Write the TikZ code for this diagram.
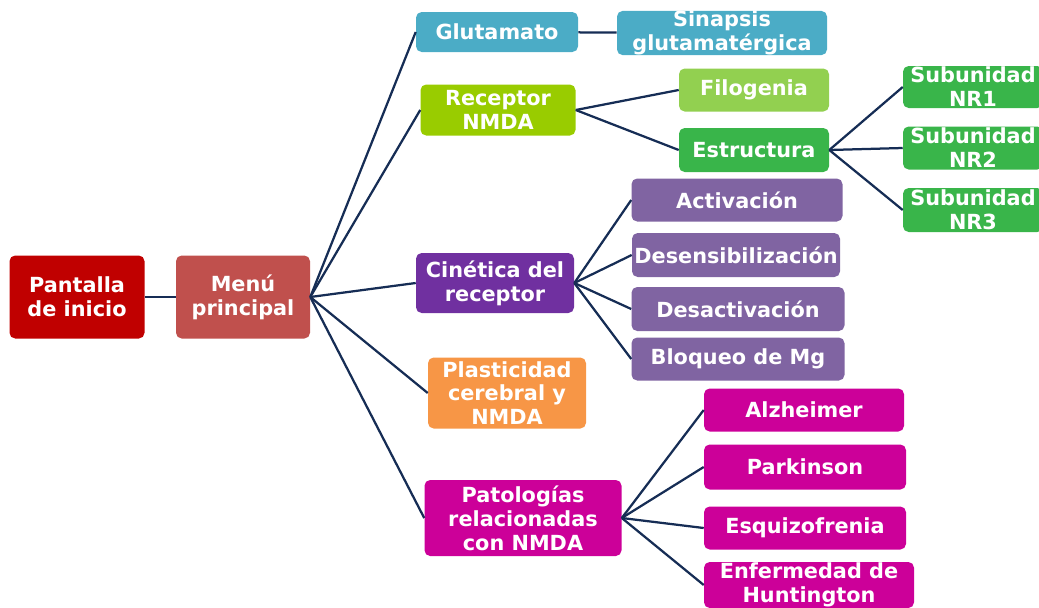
\documentclass[tikz,border=0pt]{standalone}
\usepackage{fontspec}
\setmainfont{DejaVu Sans}
\usetikzlibrary{positioning}
\definecolor{linkblue}{RGB}{22,45,85}
\definecolor{inicioRed}{RGB}{192,0,0}
\definecolor{menuRed}{RGB}{192,80,77}
\definecolor{gluBlue}{RGB}{75,172,198}
\definecolor{recLime}{RGB}{153,204,0}
\definecolor{filoGreen}{RGB}{146,208,80}
\definecolor{estGreen}{RGB}{57,181,74}
\definecolor{cinPurple}{RGB}{112,48,160}
\definecolor{kinLilac}{RGB}{128,100,162}
\definecolor{plaOrange}{RGB}{247,150,70}
\definecolor{patMagenta}{RGB}{204,0,153}
\tikzstyle{menubox} = [rounded corners=4pt, text=white, align=center,
  inner sep=0pt, font=\bfseries\fontsize{14.8}{17}\selectfont]
\tikzstyle{boxsize} = [minimum width=#1*0.025cm]
\tikzstyle{link} = [line width=1.6pt, draw=linkblue]

\begin{document}
\begin{tikzpicture}[x=0.025cm, y=-0.025cm]
  \useasboundingbox (0,0) rectangle (1039,607);
  \clip (0,0) rectangle (1039,607);

  % root
  \node[menubox, fill=inicioRed, boxsize=135, minimum height=83*0.025cm] (inicio) at (77,297) {Pantalla\\de inicio};
  \node[menubox, fill=menuRed, boxsize=134, minimum height=83*0.025cm] (menu) at (243,297) {Menú\\principal};

  % first level
  \node[menubox, fill=gluBlue, boxsize=162, minimum height=40*0.025cm] (glut) at (497,32) {Glutamato};
  \node[menubox, fill=recLime, boxsize=155, minimum height=51*0.025cm] (recep) at (498,110) {Receptor\\NMDA};
  \node[menubox, fill=cinPurple, boxsize=158, minimum height=60*0.025cm] (cinet) at (495,283) {Cinética del\\receptor};
  \node[menubox, fill=plaOrange, boxsize=158, minimum height=71*0.025cm] (plast) at (507,393) {Plasticidad\\cerebral y\\NMDA};
  \node[menubox, fill=patMagenta, boxsize=197, minimum height=76*0.025cm] (patol) at (523,518) {Patologías\\relacionadas\\con NMDA};

  % second level
  \node[menubox, fill=gluBlue, boxsize=210, minimum height=43*0.025cm] (sinap) at (722,33) {Sinapsis\\glutamatérgica};
  \node[menubox, fill=filoGreen, boxsize=150, minimum height=43*0.025cm] (filo) at (754,90) {Filogenia};
  \node[menubox, fill=estGreen, boxsize=150, minimum height=44*0.025cm] (estru) at (754,150) {Estructura};
  \node[menubox, fill=estGreen, boxsize=140, minimum height=42*0.025cm] (nrA) at (973,87) {Subunidad\\NR1};
  \node[menubox, fill=estGreen, boxsize=140, minimum height=43*0.025cm] (nrB) at (973,148) {Subunidad\\NR2};
  \node[menubox, fill=estGreen, boxsize=140, minimum height=44*0.025cm] (nrC) at (973,210) {Subunidad\\NR3};

  \node[menubox, fill=kinLilac, boxsize=211, minimum height=43*0.025cm] (activ) at (737,200) {Activación};
  \node[menubox, fill=kinLilac, boxsize=208, minimum height=44*0.025cm] (desen) at (736,255) {Desensibilización};
  \node[menubox, fill=kinLilac, boxsize=213, minimum height=44*0.025cm] (desac) at (738,309) {Desactivación};
  \node[menubox, fill=kinLilac, boxsize=213, minimum height=43*0.025cm] (bloq) at (738,359) {Bloqueo de Mg};

  \node[menubox, fill=patMagenta, boxsize=200, minimum height=43*0.025cm] (alzh) at (804,410) {Alzheimer};
  \node[menubox, fill=patMagenta, boxsize=202, minimum height=45*0.025cm] (park) at (805,467) {Parkinson};
  \node[menubox, fill=patMagenta, boxsize=202, minimum height=43*0.025cm] (esqu) at (805,528) {Esquizofrenia};
  \node[menubox, fill=patMagenta, boxsize=210, minimum height=46*0.025cm] (hunt) at (809,585) {Enfermedad de\\Huntington};

  % links
  \draw[link] (inicio) -- (menu);
  \foreach \n in {glut,recep,cinet,plast,patol} {
    \draw[link] (menu.east) -- (\n.west);
  }
  \draw[link] (glut) -- (sinap);
  \foreach \n in {filo,estru} {
    \draw[link] (recep.east) -- (\n.west);
  }
  \foreach \n in {nrA,nrB,nrC} {
    \draw[link] (estru.east) -- (\n.west);
  }
  \foreach \n in {activ,desen,desac,bloq} {
    \draw[link] (cinet.east) -- (\n.west);
  }
  \foreach \n in {alzh,park,esqu,hunt} {
    \draw[link] (patol.east) -- (\n.west);
  }
\end{tikzpicture}
\end{document}
